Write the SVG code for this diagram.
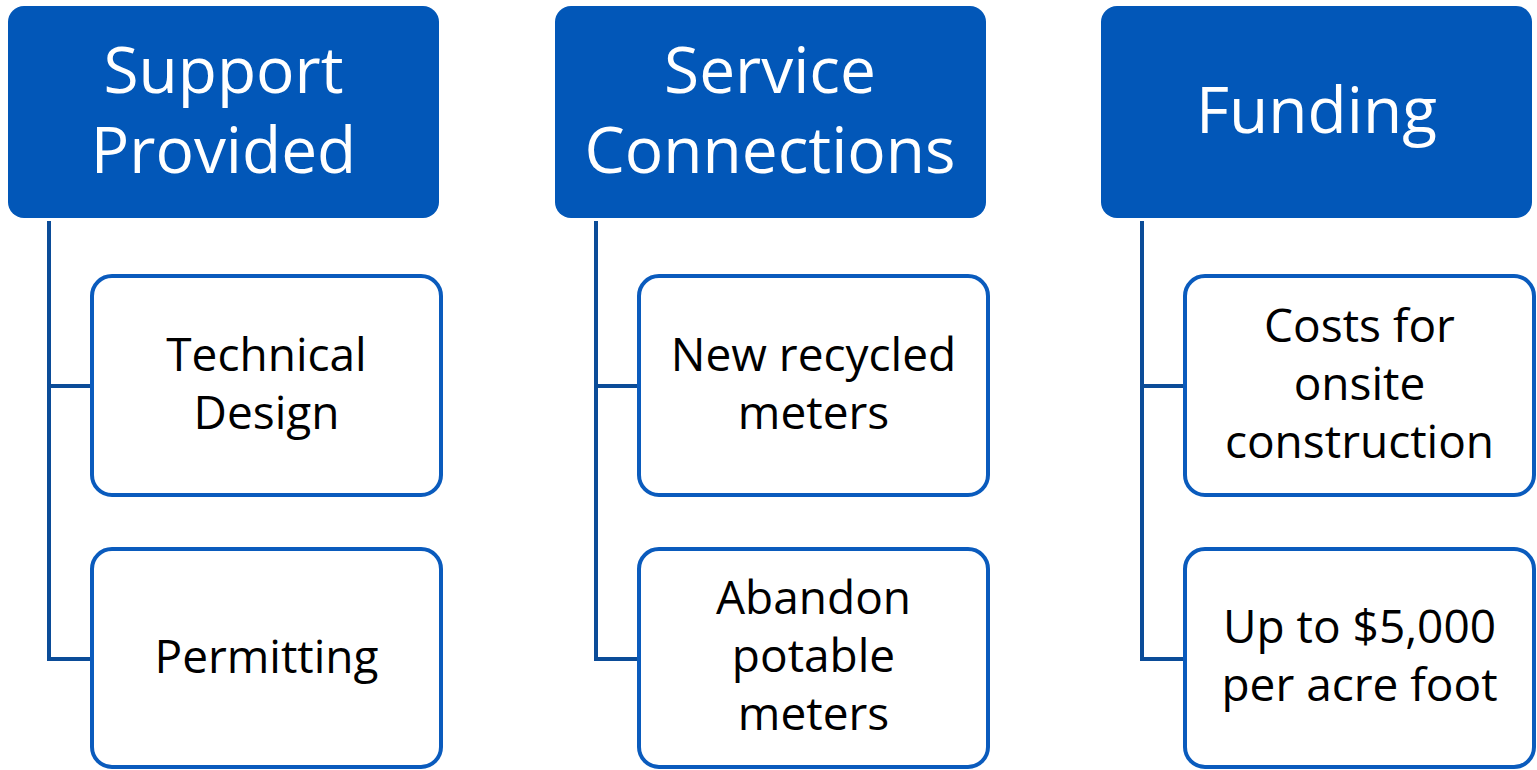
<svg xmlns="http://www.w3.org/2000/svg" width="1537" height="770" viewBox="0 0 1537 770">
<style>
.hdr{fill:#0257B8;}
.child{fill:#FFFFFF;stroke:#0A5BBD;stroke-width:4;}
.conn{fill:none;stroke:#0B4C98;stroke-width:4;}
.ht{font-family:"Open Sans","Liberation Sans",sans-serif;font-size:64px;fill:#FFFFFF;text-anchor:middle;}
.ct{font-family:"Open Sans","Liberation Sans",sans-serif;font-size:46px;fill:#000000;text-anchor:middle;}
</style>
<rect width="1537" height="770" fill="#FFFFFF"/>
<g id="connectors">
<path class="conn" d="M49,221 V659 H92 M49,386 H92"/>
<path class="conn" d="M596,221 V659 H639 M596,386 H639"/>
<path class="conn" d="M1142,221 V659 H1185 M1142,386 H1185"/>
</g>
<g id="support-provided">
<rect class="hdr" x="8" y="6" width="431" height="212" rx="16"/>
<text class="ht" x="223.5" y="93">Support</text>
<text class="ht" x="223.5" y="173">Provided</text>
</g>
<g id="technical-design">
<rect class="child" x="92" y="276" width="349" height="219" rx="20"/>
<text class="ct" x="266.5" y="371">Technical</text>
<text class="ct" x="266.5" y="429">Design</text>
</g>
<g id="permitting">
<rect class="child" x="92" y="549" width="349" height="218" rx="20"/>
<text class="ct" x="266.5" y="673">Permitting</text>
</g>
<g id="service-connections">
<rect class="hdr" x="555" y="6" width="431" height="212" rx="16"/>
<text class="ht" x="770" y="93">Service</text>
<text class="ht" x="770" y="173">Connections</text>
</g>
<g id="new-recycled-meters">
<rect class="child" x="639" y="276" width="349" height="219" rx="20"/>
<text class="ct" x="813.5" y="371">New recycled</text>
<text class="ct" x="813.5" y="429">meters</text>
</g>
<g id="abandon-potable-meters">
<rect class="child" x="639" y="549" width="349" height="218" rx="20"/>
<text class="ct" x="813.5" y="614">Abandon</text>
<text class="ct" x="813.5" y="672">potable</text>
<text class="ct" x="813.5" y="730">meters</text>
</g>
<g id="funding">
<rect class="hdr" x="1101" y="6" width="431" height="212" rx="16"/>
<text class="ht" x="1316.5" y="133">Funding</text>
</g>
<g id="costs-onsite-construction">
<rect class="child" x="1185" y="276" width="349" height="219" rx="20"/>
<text class="ct" x="1359.5" y="342">Costs for</text>
<text class="ct" x="1359.5" y="400">onsite</text>
<text class="ct" x="1359.5" y="458">construction</text>
</g>
<g id="up-to-5000">
<rect class="child" x="1185" y="549" width="349" height="218" rx="20"/>
<text class="ct" x="1359.5" y="643">Up to $5,000</text>
<text class="ct" x="1359.5" y="701">per acre foot</text>
</g>
</svg>
